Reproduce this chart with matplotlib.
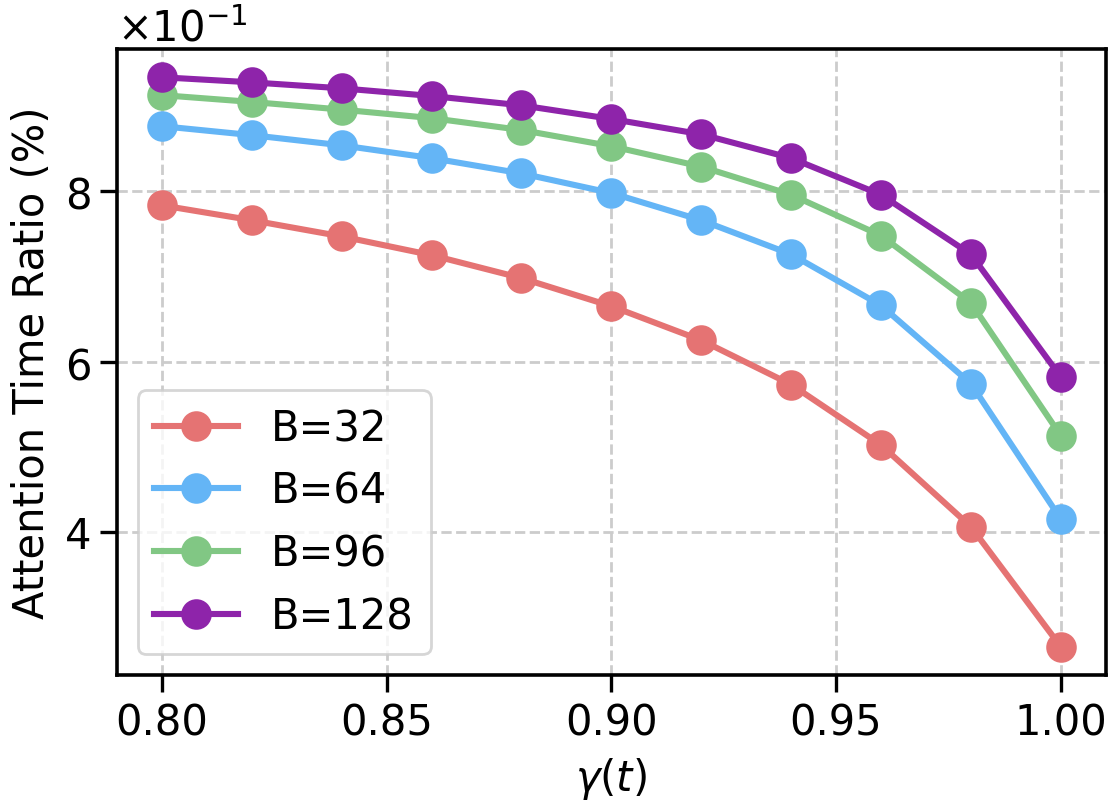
import numpy as np
import matplotlib
matplotlib.use('Agg')
import matplotlib.pyplot as plt
from matplotlib.ticker import ScalarFormatter

###### dados ######
gamma = [0.80, 0.82, 0.84, 0.86, 0.88, 0.90, 0.92, 0.94, 0.96, 0.98, 1.00]
b32 = [0.7835, 0.766, 0.747, 0.725, 0.698, 0.665, 0.625, 0.573, 0.502, 0.406, 0.265]
b64 = [0.8765, 0.866, 0.854, 0.839, 0.821, 0.798, 0.766, 0.726, 0.666, 0.574, 0.415]
b96 = [0.913, 0.905, 0.896, 0.886, 0.872, 0.853, 0.829, 0.796, 0.748, 0.669, 0.513]
b128 = [0.934, 0.928, 0.921, 0.912, 0.901, 0.885, 0.867, 0.839, 0.796, 0.726, 0.582]
labels = ['B=32', 'B=64', 'B=96', 'B=128']
cores = ['#E57373', '#64B5F6', '#81C784', '#8E24AA']

plt.rcParams['font.size'] = 15
plt.rcParams['xtick.major.size'] = 6
plt.rcParams['ytick.major.size'] = 6
plt.rcParams['xtick.major.width'] = 1.2
plt.rcParams['ytick.major.width'] = 1.2

fig = plt.figure(figsize=(5.545, 4.015), dpi=200)
ax = fig.add_axes([0.1055, 0.158, 0.8915, 0.78])

for serie, lab, cor in zip([b32, b64, b96, b128], labels, cores):
    ax.plot(gamma, serie, marker='o', markersize=10, linewidth=2.2, color=cor, label=lab)

fmt = ScalarFormatter(useMathText=True)
fmt.set_powerlimits((0, 0))
ax.yaxis.set_major_formatter(fmt)
ax.set_yticks([0.4, 0.6, 0.8])
ax.set_xticks([0.80, 0.85, 0.90, 0.95, 1.00])

ax.grid(True, linestyle='--', color='#cccccc', linewidth=1.0)
ax.set_xlabel(r'$\gamma(t)$')
ax.set_ylabel('Attention Time Ratio (%)')
ax.legend(loc='lower left', framealpha=0.8, edgecolor='#cccccc')
for s in ax.spines.values():
    s.set_linewidth(1.3)

fig.savefig('out.png', dpi=200)
